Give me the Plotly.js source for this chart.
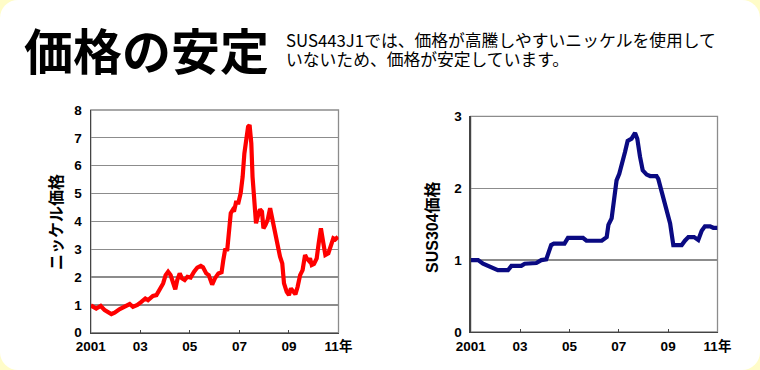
<!DOCTYPE html>
<html>
<head>
<meta charset="utf-8">
<script src="https://cdn.plot.ly/plotly-3.0.1.min.js"></script>
<style>
  html, body { margin: 0; padding: 0; background: #fffcc8; }
  #chart { width: 760px; height: 370px; background: #ffffff; border-radius: 18px; overflow: hidden; }
</style>
</head>
<body>
<div id="chart"></div>
<script>
// ---- data ----
const nickelYears = [2001.00,2001.22,2001.40,2001.56,2001.83,2001.96,2002.17,2002.37,2002.57,2002.70,2002.88,2003.04,2003.20,2003.31,2003.51,2003.65,2003.78,2003.92,2004.02,2004.12,2004.22,2004.32,2004.41,2004.49,2004.59,2004.68,2004.79,2004.90,2005.03,2005.17,2005.30,2005.44,2005.53,2005.66,2005.76,2005.90,2006.01,2006.15,2006.28,2006.35,2006.42,2006.51,2006.59,2006.65,2006.73,2006.78,2006.86,2006.96,2007.05,2007.13,2007.20,2007.27,2007.35,2007.41,2007.48,2007.53,2007.60,2007.67,2007.74,2007.83,2007.91,2007.97,2008.05,2008.14,2008.24,2008.33,2008.44,2008.54,2008.64,2008.73,2008.80,2008.91,2009.00,2009.08,2009.18,2009.26,2009.35,2009.45,2009.55,2009.65,2009.72,2009.80,2009.85,2009.92,2010.01,2010.12,2010.20,2010.29,2010.39,2010.47,2010.59,2010.68,2010.79,2010.87,2010.98];
const nickelPrice = [0.98,0.87,0.96,0.81,0.67,0.72,0.85,0.96,1.03,0.93,1.00,1.11,1.23,1.17,1.32,1.35,1.53,1.77,2.07,2.19,2.07,1.83,1.56,1.89,2.13,1.95,1.89,2.01,1.98,2.19,2.34,2.40,2.35,2.13,2.07,1.73,1.95,2.13,2.17,2.61,2.97,2.99,3.69,4.29,4.41,4.35,4.67,4.67,5.01,5.60,6.44,7.04,7.40,7.46,6.80,5.60,4.53,3.93,4.17,4.43,4.35,3.75,3.87,4.05,4.47,4.05,3.51,3.03,2.73,2.49,1.77,1.47,1.35,1.59,1.47,1.38,1.65,2.07,2.25,2.79,2.67,2.59,2.67,2.43,2.47,2.67,3.21,3.75,3.21,2.79,2.85,3.09,3.39,3.35,3.45];

const sus304Years = [2001.00,2001.30,2001.50,2001.70,2001.90,2002.10,2002.51,2002.65,2003.05,2003.19,2003.66,2003.86,2004.06,2004.26,2004.37,2004.80,2004.94,2005.55,2005.69,2006.31,2006.51,2006.58,2006.71,2006.81,2006.91,2007.02,2007.14,2007.25,2007.36,2007.52,2007.66,2007.75,2007.86,2007.97,2008.13,2008.27,2008.53,2008.60,2008.74,2008.91,2009.08,2009.21,2009.55,2009.68,2009.82,2010.05,2010.22,2010.36,2010.49,2010.70,2010.83,2011.00];
const sus304Price = [1.00,1.00,0.95,0.92,0.88,0.86,0.86,0.92,0.92,0.95,0.96,1.00,1.01,1.21,1.23,1.23,1.31,1.31,1.27,1.27,1.32,1.49,1.58,1.83,2.11,2.20,2.34,2.50,2.66,2.69,2.77,2.69,2.44,2.25,2.19,2.17,2.17,2.13,1.95,1.72,1.51,1.21,1.21,1.27,1.32,1.32,1.28,1.41,1.47,1.47,1.45,1.45];

const tickYears = [2001, 2003, 2005, 2007, 2009, 2011];
const tickLabels = ['2001', '03', '05', '07', '09', '11年'];
const nickelTicks = [0, 1, 2, 3, 4, 5, 6, 7, 8];
const susTicks = [0, 1, 2, 3];

const titleText = '価格の安定';
const descLine1 = 'SUS443J1では、価格が高騰しやすいニッケルを使用して';
const descLine2 = 'いないため、価格が安定しています。';
const nickelTitle = 'ニッケル価格';
const susTitle = 'SUS304価格';

// ---- chart ----
const W = 760, H = 370;
const px = v => v / W;
const py = v => (H - v) / H;
const bold = s => '<b>' + s + '</b>';

const tickFont = { family: 'Liberation Sans, Arial, Noto Sans CJK JP, sans-serif', size: 13.5, color: '#000' };

function xAxis(domain, anchor) {
  return {
    domain: domain, anchor: anchor, range: [2001, 2011],
    tickmode: 'array', tickvals: tickYears, ticktext: tickLabels.map(bold),
    ticks: 'inside', ticklen: 3, tickcolor: '#444', tickwidth: 1,
    showline: true, linecolor: '#444', linewidth: 1.3,
    showgrid: false, zeroline: false, fixedrange: true,
    tickfont: tickFont, ticklabelstandoff: 1
  };
}
function yAxis(domain, anchor, range, vals) {
  return {
    domain: domain, anchor: anchor, range: range,
    tickmode: 'array', tickvals: vals, ticktext: vals.map(v => bold(String(v))),
    ticks: '', showline: true, linecolor: '#444', linewidth: 1.3,
    showgrid: true, gridcolor: '#8c8c8c', gridwidth: 1.3,
    zeroline: false, fixedrange: true,
    tickfont: tickFont, ticklabelstandoff: 5
  };
}

const traces = [
  { x: nickelYears, y: nickelPrice, type: 'scatter', mode: 'lines',
    line: { color: '#ff0000', width: 4.2 }, xaxis: 'x', yaxis: 'y', hoverinfo: 'skip' },
  { x: sus304Years, y: sus304Price, type: 'scatter', mode: 'lines',
    line: { color: '#0a0a82', width: 4.2 }, xaxis: 'x2', yaxis: 'y2', hoverinfo: 'skip' }
];

const layout = {
  width: W, height: H,
  margin: { l: 0, r: 0, t: 0, b: 0 },
  paper_bgcolor: 'rgba(0,0,0,0)', plot_bgcolor: '#ffffff',
  showlegend: false,
  xaxis: xAxis([px(90.8), px(338.5)], 'y'),
  yaxis: yAxis([py(332.7), py(110)], 'x', [0, 8], nickelTicks),
  xaxis2: xAxis([px(470.7), px(717.5)], 'y2'),
  yaxis2: yAxis([py(332), py(116.4)], 'x2', [0, 3], susTicks),
  shapes: [
    { type: 'rect', xref: 'x domain', yref: 'y domain', x0: 0, x1: 1, y0: 0, y1: 1,
      line: { color: '#8c8c8c', width: 1.3 }, layer: 'below' },
    { type: 'rect', xref: 'x2 domain', yref: 'y2 domain', x0: 0, x1: 1, y0: 0, y1: 1,
      line: { color: '#8c8c8c', width: 1.3 }, layer: 'below' }
  ],
  annotations: [
    { text: titleText, xref: 'paper', yref: 'paper', x: px(22), y: py(48),
      xanchor: 'left', yanchor: 'middle', showarrow: false,
      font: { family: 'Noto Sans CJK JP', size: 49, color: '#000', weight: 'bold' } },
    { text: descLine1, xref: 'paper', yref: 'paper', x: px(284), y: py(39.5),
      xanchor: 'left', yanchor: 'middle', showarrow: false, height: 17,
      font: { family: 'Noto Sans CJK JP', size: 16.8, color: '#000' } },
    { text: descLine2, xref: 'paper', yref: 'paper', x: px(284), y: py(58.5),
      xanchor: 'left', yanchor: 'middle', showarrow: false, height: 17,
      font: { family: 'Noto Sans CJK JP', size: 16.8, color: '#000' } },
    { text: nickelTitle, xref: 'paper', yref: 'paper', x: px(55), y: py(222),
      xanchor: 'center', yanchor: 'middle', textangle: -90, showarrow: false,
      font: { family: 'Noto Sans CJK JP', size: 16, color: '#000', weight: 'bold' } },
    { text: susTitle, xref: 'paper', yref: 'paper', x: px(432), y: py(227),
      xanchor: 'center', yanchor: 'middle', textangle: -90, showarrow: false,
      font: { family: 'Liberation Sans, Noto Sans CJK JP', size: 16, color: '#000', weight: 'bold' } }
  ]
};

Plotly.newPlot('chart', traces, layout, { displayModeBar: false, staticPlot: true });
</script>
</body>
</html>
